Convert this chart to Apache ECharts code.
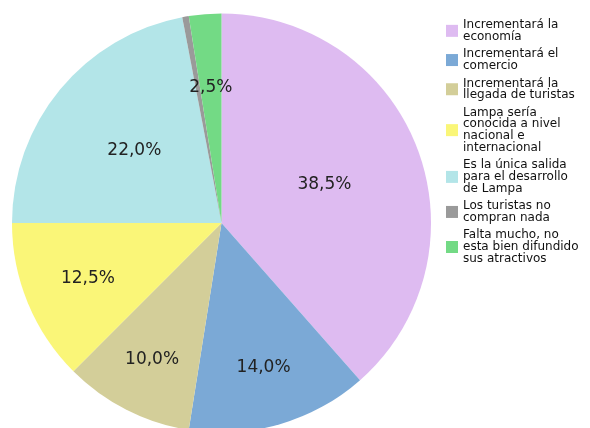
<!DOCTYPE html>
<html>
<head>
<meta charset="utf-8">
<script src="https://cdn.jsdelivr.net/npm/echarts@6/dist/echarts.min.js"></script>
<style>
html,body{margin:0;padding:0;background:#fff;}
#chart{width:590px;height:428px;}
</style>
</head>
<body>
<div id="chart"></div>
<script>
const categories = [
  "Incrementará la\neconomía",
  "Incrementará el\ncomercio",
  "Incrementará la\nllegada de turistas",
  "Lampa sería\nconocida a nivel\nnacional e\ninternacional",
  "Es la única salida\npara el desarrollo\nde Lampa",
  "Los turistas no\ncompran nada",
  "Falta mucho, no\nesta bien difundido\nsus atractivos"
];
const values = [38.5, 14.0, 10.0, 12.5, 22.0, 0.5, 2.5];
const colors = ["#DEBBF1", "#7BA9D6", "#D3CE99", "#FAF678", "#B3E5E8", "#9A9A9A", "#73DA85"];
const labelRadius = [0.525, 0.72, 0.73, 0.69, 0.54, 0.65, 0.65];

const CX = 221.5, CY = 223, R = 209.5;
const total = values.reduce((a, b) => a + b, 0);

const chart = echarts.init(document.getElementById('chart'), null, {renderer: 'canvas'});
chart.setOption({
  animation: false,
  backgroundColor: '#fff',
  color: colors,
  legend: {
    orient: 'vertical',
    left: 446,
    top: 19,
    padding: 0,
    itemWidth: 12,
    itemHeight: 12,
    itemGap: 5.5,
    icon: 'rect',
    selectedMode: false,
    textStyle: {fontFamily: 'DejaVu Sans', fontSize: 12, lineHeight: 11.7, color: '#111'},
    data: categories
  },
  series: [{
    type: 'pie',
    center: [CX, CY],
    radius: R,
    startAngle: 90,
    clockwise: true,
    avoidLabelOverlap: false,
    itemStyle: {borderWidth: 0},
    emphasis: {disabled: true},
    label: {
      show: true,
      position: 'inside',
      fontFamily: 'DejaVu Sans',
      fontSize: 17,
      color: '#222',
      formatter: p => p.dataIndex === 5 ? '' : p.value.toFixed(1).replace('.', ',') + '%'
    },
    labelLine: {show: false},
    labelLayout: function (params) {
      const i = params.dataIndex;
      let cum = 0;
      for (let k = 0; k < i; k++) cum += values[k];
      const mid = (cum + values[i] / 2) / total * 2 * Math.PI;
      const r = labelRadius[i] * R;
      return {
        x: CX + r * Math.sin(mid),
        y: CY - r * Math.cos(mid),
        align: 'center',
        verticalAlign: 'middle'
      };
    },
    data: categories.map((c, i) => ({name: c, value: values[i]}))
  }]
});
</script>
</body>
</html>
